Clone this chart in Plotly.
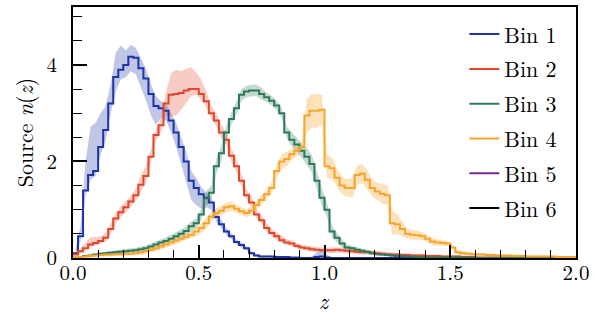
import numpy as np
import plotly.graph_objects as go

# histogram grid (bin width 0.02 in z, from 0 to 2)
bin_width = 0.02
z_edges = np.round(np.arange(0, 2.0 + bin_width / 2, bin_width), 2)
z_mid = z_edges[:-1] + bin_width / 2

# ---------------- Bin 1 ----------------
bin1 = [0.10, 0.45, 1.40, 1.72, 1.80, 2.30, 2.65, 3.20, 3.75, 3.90,
        4.00, 4.17, 4.15, 3.93, 3.72, 3.40, 3.15, 3.10, 3.05, 2.85,
        2.60, 2.30, 2.00, 1.60, 1.45, 1.32, 1.25, 1.15, 0.85, 0.70,
        0.55, 0.45, 0.33, 0.27, 0.20, 0.10, 0.05, 0.03, 0.03, 0.03,
        0.02, 0.02, 0.02, 0.01, 0.01, 0.00, 0.00, 0.00, 0.02, 0.03,
        0.01, 0.00, 0.00, 0.00, 0.00, 0.00, 0.00, 0.00, 0.00, 0.00,
        0.00, 0.00, 0.00, 0.00, 0.00, 0.00, 0.00, 0.00, 0.00, 0.00,
        0.00, 0.00, 0.00, 0.00, 0.00, 0.00, 0.00, 0.00, 0.00, 0.00,
        0.00, 0.00, 0.00, 0.00, 0.00, 0.00, 0.00, 0.00, 0.00, 0.00,
        0.00, 0.00, 0.00, 0.00, 0.00, 0.00, 0.00, 0.00, 0.00, 0.00]
bin1_hi = [0.10, 0.20, 0.60, 1.00, 1.00, 0.70, 0.50, 0.40, 0.50, 0.50,
           0.30, 0.25, 0.20, 0.20, 0.20, 0.20, 0.20, 0.15, 0.15, 0.15,
           0.20, 0.20, 0.20, 0.20, 0.20, 0.15, 0.12, 0.10, 0.10, 0.08,
           0.07, 0.06, 0.05, 0.05, 0.04, 0.04, 0.03, 0.02, 0.02, 0.02,
           0.02, 0.02, 0.02, 0.01, 0.01, 0.00, 0.00, 0.03, 0.10, 0.12,
           0.06, 0.00, 0.00, 0.00, 0.00, 0.00, 0.00, 0.00, 0.00, 0.00,
           0.00, 0.00, 0.00, 0.00, 0.00, 0.00, 0.00, 0.00, 0.00, 0.00,
           0.00, 0.00, 0.00, 0.00, 0.00, 0.00, 0.00, 0.00, 0.00, 0.00,
           0.00, 0.00, 0.00, 0.00, 0.00, 0.00, 0.00, 0.00, 0.00, 0.00,
           0.00, 0.00, 0.00, 0.00, 0.00, 0.00, 0.00, 0.00, 0.00, 0.00]
bin1_lo = [0.05, 0.10, 0.10, 0.10, 0.10, 0.15, 0.20, 0.20, 0.30, 0.20,
           0.25, 0.30, 0.35, 0.40, 0.45, 0.45, 0.40, 0.20, 0.20, 0.25,
           0.30, 0.35, 0.40, 0.40, 0.35, 0.30, 0.20, 0.15, 0.10, 0.08,
           0.07, 0.06, 0.05, 0.05, 0.04, 0.04, 0.03, 0.02, 0.02, 0.02,
           0.02, 0.02, 0.02, 0.01, 0.01, 0.00, 0.00, 0.00, 0.02, 0.03,
           0.01, 0.00, 0.00, 0.00, 0.00, 0.00, 0.00, 0.00, 0.00, 0.00,
           0.00, 0.00, 0.00, 0.00, 0.00, 0.00, 0.00, 0.00, 0.00, 0.00,
           0.00, 0.00, 0.00, 0.00, 0.00, 0.00, 0.00, 0.00, 0.00, 0.00,
           0.00, 0.00, 0.00, 0.00, 0.00, 0.00, 0.00, 0.00, 0.00, 0.00,
           0.00, 0.00, 0.00, 0.00, 0.00, 0.00, 0.00, 0.00, 0.00, 0.00]

# ---------------- Bin 2 ----------------
bin2 = [0.07, 0.14, 0.20, 0.28, 0.31, 0.35, 0.42, 0.60, 0.82, 0.95,
        1.05, 1.17, 1.30, 1.52, 1.70, 2.10, 2.55, 2.75, 3.20, 3.38,
        3.40, 3.42, 3.47, 3.50, 3.50, 3.40, 3.25, 3.00, 2.85, 2.60,
        2.45, 2.12, 1.90, 1.60, 1.30, 1.15, 0.90, 0.78, 0.62, 0.52,
        0.45, 0.37, 0.32, 0.30, 0.25, 0.22, 0.20, 0.18, 0.17, 0.16,
        0.16, 0.16, 0.17, 0.16, 0.15, 0.14, 0.13, 0.12, 0.12, 0.11,
        0.10, 0.09, 0.08, 0.07, 0.07, 0.06, 0.06, 0.05, 0.05, 0.05,
        0.04, 0.04, 0.04, 0.03, 0.03, 0.03, 0.03, 0.02, 0.02, 0.02,
        0.01, 0.01, 0.01, 0.01, 0.01, 0.01, 0.01, 0.01, 0.01, 0.01,
        0.00, 0.00, 0.00, 0.00, 0.00, 0.00, 0.00, 0.00, 0.00, 0.00]
bin2_hi = [0.03, 0.08, 0.12, 0.15, 0.12, 0.10, 0.10, 0.12, 0.12, 0.12,
           0.12, 0.12, 0.15, 0.20, 0.20, 0.15, 0.12, 0.15, 0.25, 0.45,
           0.50, 0.45, 0.45, 0.45, 0.35, 0.30, 0.20, 0.15, 0.15, 0.15,
           0.15, 0.15, 0.15, 0.15, 0.12, 0.12, 0.10, 0.10, 0.10, 0.08,
           0.08, 0.08, 0.07, 0.07, 0.06, 0.06, 0.06, 0.06, 0.06, 0.06,
           0.06, 0.06, 0.06, 0.06, 0.05, 0.05, 0.05, 0.05, 0.05, 0.05,
           0.04, 0.04, 0.04, 0.04, 0.04, 0.04, 0.04, 0.04, 0.04, 0.04,
           0.03, 0.03, 0.03, 0.03, 0.03, 0.03, 0.03, 0.03, 0.03, 0.03,
           0.02, 0.02, 0.02, 0.02, 0.02, 0.02, 0.02, 0.02, 0.02, 0.02,
           0.01, 0.01, 0.01, 0.01, 0.01, 0.01, 0.01, 0.01, 0.01, 0.01]
bin2_lo = [0.03, 0.05, 0.05, 0.05, 0.05, 0.05, 0.08, 0.10, 0.10, 0.10,
           0.10, 0.10, 0.12, 0.15, 0.15, 0.12, 0.12, 0.15, 0.25, 0.45,
           0.45, 0.35, 0.25, 0.15, 0.12, 0.12, 0.12, 0.12, 0.12, 0.12,
           0.12, 0.12, 0.12, 0.10, 0.10, 0.08, 0.08, 0.07, 0.07, 0.06,
           0.06, 0.06, 0.05, 0.05, 0.05, 0.05, 0.05, 0.05, 0.05, 0.05,
           0.06, 0.06, 0.06, 0.06, 0.05, 0.05, 0.05, 0.05, 0.05, 0.05,
           0.04, 0.04, 0.04, 0.04, 0.04, 0.04, 0.04, 0.04, 0.04, 0.04,
           0.03, 0.03, 0.03, 0.03, 0.03, 0.03, 0.03, 0.03, 0.03, 0.03,
           0.02, 0.02, 0.02, 0.02, 0.02, 0.02, 0.02, 0.02, 0.02, 0.02,
           0.01, 0.01, 0.01, 0.01, 0.01, 0.01, 0.01, 0.01, 0.01, 0.01]

# ---------------- Bin 3 ----------------
bin3 = [0.01, 0.02, 0.04, 0.05, 0.07, 0.09, 0.10, 0.11, 0.12, 0.13,
        0.14, 0.15, 0.16, 0.18, 0.20, 0.24, 0.28, 0.32, 0.35, 0.40,
        0.45, 0.50, 0.56, 0.66, 0.72, 0.90, 1.24, 1.35, 1.90, 2.17,
        2.60, 2.88, 3.10, 3.38, 3.45, 3.47, 3.47, 3.40, 3.33, 3.26,
        3.16, 3.00, 2.60, 2.45, 2.35, 2.22, 2.10, 1.95, 1.60, 1.25,
        1.00, 0.55, 0.42, 0.30, 0.22, 0.20, 0.17, 0.15, 0.13, 0.10,
        0.08, 0.07, 0.06, 0.05, 0.04, 0.04, 0.03, 0.03, 0.02, 0.02,
        0.01, 0.01, 0.01, 0.01, 0.01, 0.01, 0.01, 0.01, 0.01, 0.01,
        0.00, 0.00, 0.00, 0.00, 0.00, 0.00, 0.00, 0.00, 0.00, 0.00,
        0.00, 0.00, 0.00, 0.00, 0.00, 0.00, 0.00, 0.00, 0.00, 0.00]
bin3_err = [0.01, 0.02, 0.02, 0.03, 0.03, 0.03, 0.04, 0.04, 0.04, 0.05,
            0.05, 0.05, 0.05, 0.06, 0.06, 0.06, 0.07, 0.07, 0.08, 0.08,
            0.08, 0.09, 0.10, 0.10, 0.10, 0.12, 0.15, 0.15, 0.15, 0.15,
            0.15, 0.12, 0.12, 0.12, 0.12, 0.12, 0.12, 0.12, 0.10, 0.10,
            0.10, 0.10, 0.12, 0.15, 0.15, 0.15, 0.18, 0.18, 0.18, 0.18,
            0.15, 0.12, 0.10, 0.08, 0.06, 0.05, 0.05, 0.04, 0.04, 0.03,
            0.03, 0.03, 0.03, 0.03, 0.03, 0.03, 0.03, 0.03, 0.03, 0.03,
            0.02, 0.02, 0.02, 0.02, 0.02, 0.02, 0.02, 0.02, 0.02, 0.02,
            0.01, 0.01, 0.01, 0.01, 0.01, 0.01, 0.01, 0.01, 0.01, 0.01,
            0.00, 0.00, 0.00, 0.00, 0.00, 0.00, 0.00, 0.00, 0.00, 0.00]

# ---------------- Bin 4 ----------------
bin4 = [0.01, 0.02, 0.03, 0.04, 0.05, 0.06, 0.07, 0.07, 0.08, 0.08,
        0.09, 0.09, 0.10, 0.12, 0.14, 0.17, 0.20, 0.24, 0.28, 0.32,
        0.36, 0.40, 0.44, 0.48, 0.55, 0.62, 0.72, 0.86, 0.93, 0.98,
        1.05, 1.07, 1.02, 0.97, 0.93, 0.98, 1.10, 1.20, 1.32, 1.45,
        1.80, 2.00, 2.05, 2.15, 2.22, 2.30, 2.95, 3.05, 3.05, 3.07,
        1.90, 1.86, 1.66, 1.50, 1.45, 1.45, 1.72, 1.75, 1.62, 1.45,
        1.38, 1.33, 1.30, 0.72, 0.70, 0.60, 0.50, 0.48, 0.47, 0.45,
        0.40, 0.34, 0.32, 0.31, 0.30, 0.22, 0.12, 0.10, 0.09, 0.08,
        0.07, 0.07, 0.06, 0.06, 0.05, 0.05, 0.05, 0.04, 0.04, 0.04,
        0.03, 0.03, 0.03, 0.03, 0.03, 0.03, 0.02, 0.02, 0.02, 0.02]
bin4_err = [0.01, 0.02, 0.02, 0.03, 0.03, 0.03, 0.04, 0.04, 0.04, 0.05,
            0.05, 0.05, 0.05, 0.06, 0.06, 0.06, 0.07, 0.07, 0.07, 0.08,
            0.08, 0.08, 0.08, 0.08, 0.10, 0.10, 0.12, 0.10, 0.10, 0.10,
            0.10, 0.10, 0.08, 0.08, 0.08, 0.10, 0.10, 0.10, 0.10, 0.12,
            0.15, 0.15, 0.15, 0.12, 0.12, 0.12, 0.35, 0.35, 0.35, 0.30,
            0.25, 0.22, 0.20, 0.18, 0.18, 0.20, 0.20, 0.20, 0.20, 0.18,
            0.18, 0.20, 0.20, 0.25, 0.20, 0.15, 0.10, 0.10, 0.10, 0.08,
            0.08, 0.08, 0.07, 0.06, 0.05, 0.05, 0.04, 0.04, 0.04, 0.03,
            0.03, 0.03, 0.03, 0.03, 0.03, 0.03, 0.03, 0.03, 0.03, 0.03,
            0.02, 0.02, 0.02, 0.02, 0.02, 0.02, 0.02, 0.02, 0.02, 0.02]

series = [
    ("Bin 1", bin1, bin1_hi, bin1_lo, "#1d34a6", "rgba(29,52,166,0.28)"),
    ("Bin 2", bin2, bin2_hi, bin2_lo, "#e0482b", "rgba(224,72,43,0.28)"),
    ("Bin 3", bin3, bin3_err, bin3_err, "#2c7a58", "rgba(44,122,88,0.28)"),
    ("Bin 4", bin4, bin4_err, bin4_err, "#f5a52c", "rgba(245,165,44,0.32)"),
]
empty_series = [("Bin 5", "#7a2a93"), ("Bin 6", "#000000")]

for _, v, h, l, _, _ in series:
    assert len(v) == 100 and len(h) == 100 and len(l) == 100

fig = go.Figure()

for name, vals, hi, lo, col, fcol in series:
    v = np.array(vals)
    upper = v + np.array(hi)
    lower = np.clip(v - np.array(lo), 0, None)
    fig.add_trace(go.Scatter(x=z_mid, y=lower, mode="lines", line=dict(width=0),
                             showlegend=False, hoverinfo="skip", legendgroup=name))
    fig.add_trace(go.Scatter(x=z_mid, y=upper, mode="lines", line=dict(width=0),
                             fill="tonexty", fillcolor=fcol,
                             showlegend=False, hoverinfo="skip", legendgroup=name))

for name, vals, hi, lo, col, fcol in series:
    fig.add_trace(go.Scatter(x=z_edges, y=list(vals) + [vals[-1]], mode="lines",
                             line=dict(color=col, width=2, shape="hv"), name=name,
                             legendgroup=name))

for name, col in empty_series:
    fig.add_trace(go.Scatter(x=[None], y=[None], mode="lines",
                             line=dict(color=col, width=2), name=name, legendgroup=name))

font_family = "Latin Modern Roman"

fig.update_layout(
    width=601, height=324,
    margin=dict(l=72.5, r=24.5, t=7, b=65.7, autoexpand=False),
    paper_bgcolor="white", plot_bgcolor="white",
    font=dict(family=font_family, size=21, color="black"),
    showlegend=True,
    legend=dict(x=0.778, y=0.975, xanchor="left", yanchor="top",
                traceorder="grouped",
                bgcolor="rgba(0,0,0,0)", font=dict(size=22, family=font_family),
                tracegroupgap=3.2, itemwidth=30),
)

fig.update_xaxes(
    range=[0, 2.0], showgrid=False, zeroline=False, automargin=False,
    showline=True, linecolor="black", linewidth=1.8, mirror=True,
    ticks="inside", ticklen=13, tickwidth=1.5, tickcolor="black",
    tickvals=[0, 0.5, 1.0, 1.5, 2.0], ticktext=["0.0", "0.5", "1.0", "1.5", "2.0"],
    minor=dict(dtick=0.1, ticks="inside", ticklen=8, tickwidth=1.3, tickcolor="black"),
    ticklabelstandoff=-5,
)
fig.update_yaxes(
    range=[0, 5.2], showgrid=False, zeroline=False, automargin=False,
    showline=True, linecolor="black", linewidth=1.8, mirror=True,
    ticks="inside", ticklen=14, tickwidth=1.5, tickcolor="black",
    tickvals=[0, 2, 4], ticktext=["0", "2", "4"],
    minor=dict(dtick=0.5, ticks="inside", ticklen=9, tickwidth=1.3, tickcolor="black"),
    ticklabelstandoff=10,
)

fig.add_annotation(
    text="Source <i>n</i>(<i>z</i>)", xref="paper", yref="paper",
    x=-0.098, y=0.5, xanchor="center", yanchor="middle", textangle=-90,
    showarrow=False, font=dict(size=22, family=font_family),
)
fig.add_annotation(
    text="<i>z</i>", xref="paper", yref="paper",
    x=0.5, y=-0.166, xanchor="center", yanchor="middle",
    showarrow=False, font=dict(size=22, family=font_family),
)

fig.write_html("out.html", config={"displayModeBar": False},
               post_script="document.body.style.margin='0';")
